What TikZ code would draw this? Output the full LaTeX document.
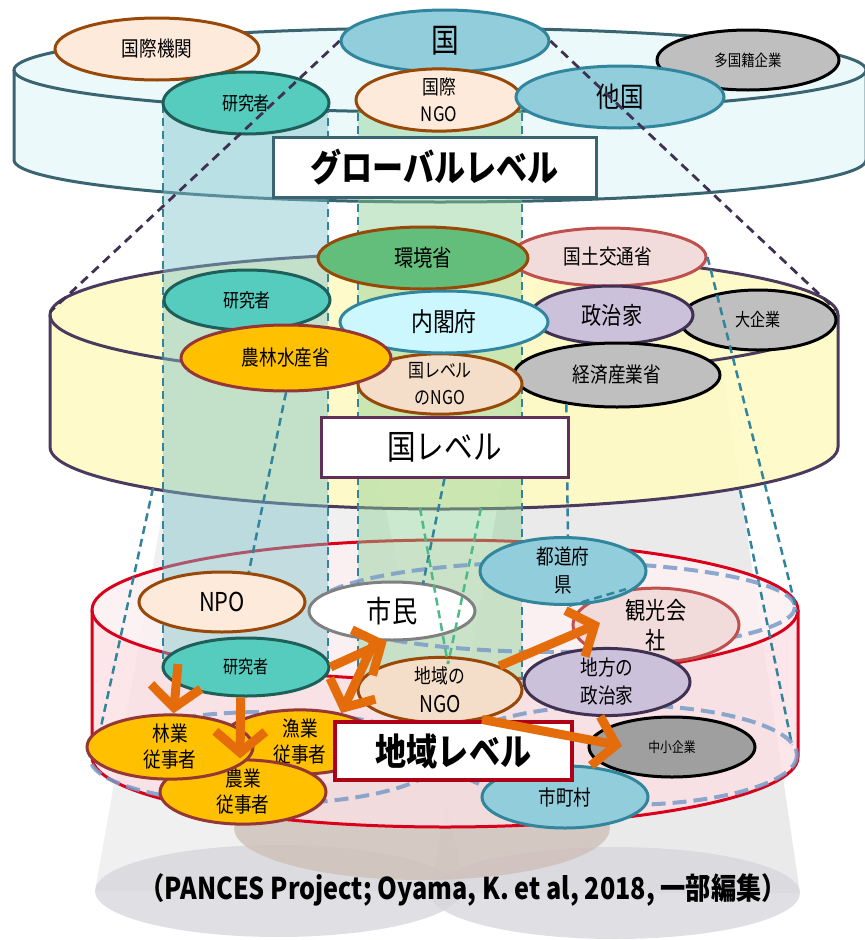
\documentclass[tikz,border=0pt]{standalone}
\usepackage{fontspec}
\setmainfont[FakeStretch=0.84]{Noto Sans CJK JP}
\usetikzlibrary{shapes.geometric,arrows.meta}
\definecolor{cBlue}{HTML}{92CDDC}
\definecolor{cBlueL}{HTML}{31859C}
\definecolor{cPeach}{HTML}{FDEADA}
\definecolor{cBrown}{HTML}{984807}
\definecolor{cTeal}{HTML}{55CCBE}
\definecolor{cTealL}{HTML}{1F5F5A}
\definecolor{cGray}{HTML}{BFBFBF}
\definecolor{cGreen}{HTML}{63BE7B}
\definecolor{cPink}{HTML}{F2DCDB}
\definecolor{cPinkL}{HTML}{C0504D}
\definecolor{cCyan}{HTML}{CCF7FF}
\definecolor{cLav}{HTML}{CCC1DA}
\definecolor{cLavL}{HTML}{403152}
\definecolor{cOrange}{HTML}{FFC000}
\definecolor{cOrangeL}{HTML}{953735}
\definecolor{cArrow}{HTML}{E46C0A}
\definecolor{globF}{HTML}{ECF9FB}
\definecolor{globL}{HTML}{3A6470}
\definecolor{natF}{HTML}{FFFAC4}
\definecolor{natL}{HTML}{4A3B5E}
\definecolor{locF}{HTML}{FBE0E3}
\definecolor{locL}{HTML}{D9001B}
\definecolor{tealD}{HTML}{31849B}
\definecolor{purpD}{HTML}{3F3151}
\definecolor{blueD}{HTML}{7A9CC8}
\definecolor{tealB}{HTML}{7DC3CC}
\definecolor{greenB}{HTML}{8CCF93}
\definecolor{grayBot}{HTML}{D5D5DB}
\definecolor{brownSh}{HTML}{CFC0B8}
\begin{document}
\begin{tikzpicture}[x=1pt,y=-1pt,
  nd/.style={ellipse, inner sep=0pt, line width=3pt, align=center, text=black},
  blueN/.style={nd, fill=cBlue, draw=cBlueL},
  peachN/.style={nd, fill=cPeach, draw=cBrown},
  tealN/.style={nd, fill=cTeal, draw=cTealL},
  grayN/.style={nd, fill=cGray, draw=black},
  greenN/.style={nd, fill=cGreen, draw=cBrown},
  pinkN/.style={nd, fill=cPink, draw=cPinkL},
  cyanN/.style={nd, fill=cCyan, draw=cBlueL},
  lavN/.style={nd, fill=cLav, draw=cLavL},
  orangeN/.style={nd, fill=cOrange, draw=cOrangeL},
  whiteN/.style={nd, fill=white, draw=gray},
  lvbox/.style={rectangle, fill=white, inner sep=0pt, line width=3pt, font=\bfseries\fontsize{37}{40}\selectfont},
  tdash/.style={draw=tealD, line width=2.5pt, dash pattern=on 8pt off 5pt},
  tdashL/.style={draw=tealD!70!green!80!white, line width=2.5pt, dash pattern=on 8pt off 5pt},
  pdash/.style={draw=purpD, line width=2.8pt, dash pattern=on 9pt off 6pt},
  bdash/.style={draw=blueD, line width=4pt, dash pattern=on 14pt off 7pt, opacity=0.85},
  orr/.style={draw=cArrow, line width=9pt, -{Straight Barb[length=21pt,width=50pt]}}
]
\useasboundingbox (0,0) rectangle (865,940);

% ---- light beams and shadows
\fill[gray!60, opacity=0.2] (185,385) -- (360,385) -- (465,891) -- (95,891) -- cycle;
\fill[gray!65, opacity=0.25] (540,262) -- (707,262) -- (800,893) -- (430,893) -- cycle;
\fill[grayBot, opacity=0.75] (278,891) ellipse[x radius=183, y radius=46];
\fill[grayBot, opacity=0.75] (615,893) ellipse[x radius=185, y radius=46];
\fill[brownSh, opacity=0.8] (422,828) ellipse[x radius=188, y radius=52];

% ---- global cylinder
\fill[globF] (14,70) -- (14,160) arc[start angle=180,end angle=0,x radius=426,y radius=42] -- (866,70) arc[start angle=0,end angle=-180,x radius=426,y radius=42] -- cycle;
\draw[globL, line width=3pt] (14,70) -- (14,160) arc[start angle=180,end angle=0,x radius=426,y radius=42] -- (866,70);
\draw[globL, line width=3pt] (440,70) ellipse[x radius=426, y radius=42];

% ---- national cylinder
\fill[natF, opacity=0.9] (50,315) -- (50,447) arc[start angle=180,end angle=0,x radius=394,y radius=62] -- (838,315) arc[start angle=0,end angle=-180,x radius=394,y radius=62] -- cycle;
\draw[natL, line width=3pt] (50,315) -- (50,447) arc[start angle=180,end angle=0,x radius=394,y radius=62] -- (838,315);
\draw[natL, line width=3pt] (444,315) ellipse[x radius=394, y radius=62];

% ---- local cylinder
\fill[locF, opacity=0.8] (92,610) -- (92,757) arc[start angle=180,end angle=0,x radius=353,y radius=70] -- (798,610) arc[start angle=0,end angle=-180,x radius=353,y radius=70] -- cycle;
\fill[white, opacity=0.5] (445,610) ellipse[x radius=353, y radius=70];
\draw[locL, line width=3pt] (92,610) -- (92,757) arc[start angle=180,end angle=0,x radius=353,y radius=70] -- (798,610);
\draw[locL, line width=3pt] (445,610) ellipse[x radius=353, y radius=70];

% ---- vertical bands
\fill[tealB, opacity=0.45] (163,105) rectangle (328,668);
\fill[greenB, opacity=0.45] (358,100) rectangle (522,690);

% ---- coordinates for free ends
\coordinate (bl1) at (163,105); \coordinate (bl2) at (163,668);
\coordinate (br1) at (328,105); \coordinate (br2) at (328,668);
\coordinate (gl1) at (358,100); \coordinate (gl2) at (358,690);
\coordinate (gr1) at (522,100); \coordinate (gr2) at (522,690);
\coordinate (outL1) at (153,488); \coordinate (outL2) at (97,745);
\coordinate (npoT) at (248,576);
\coordinate (xA) at (420,508); \coordinate (xB) at (481,508);
\coordinate (ngoT) at (448,664);
\coordinate (shiT) at (423,584);
\coordinate (todoT) at (568,542);
\coordinate (lineA2) at (797,612);
\coordinate (lineB1) at (740,490); \coordinate (lineB2) at (792,745);
\coordinate (natL1) at (50,312); \coordinate (natR1) at (836,310);
\coordinate (a1s) at (178,664);
\coordinate (a5e) at (600,623);
\coordinate (a6e) at (622,746);

% ---- dashed teal lines
\draw[tdash] (bl1) -- (bl2);
\draw[tdash] (br1) -- (br2);
\draw[tdash] (gl1) -- (gl2);
\draw[tdash] (gr1) -- (gr2);
\draw[tdash] (outL1) -- (outL2);
\draw[tdash] (lineB1) -- (lineB2);

% ---- blue dashed ellipses (local level)
\draw[bdash] (555,607) ellipse[x radius=240, y radius=45];
\draw[bdash] (265,758) ellipse[x radius=175, y radius=46];
\draw[bdash] (622,755) ellipse[x radius=175, y radius=50];

% ---- global nodes
\node[peachN, minimum width=204pt, minimum height=62pt, font=\fontsize{21}{25}\selectfont] (kikan) at (157,49) {国際機関};
\node[blueN, minimum width=208pt, minimum height=62pt, font=\fontsize{33}{36}\selectfont] (kuni) at (445,41) {国};
\node[grayN, minimum width=182pt, minimum height=60pt, font=\fontsize{16}{19}\selectfont] (takoku) at (748,60) {多国籍企業};
\node[peachN, minimum width=166pt, minimum height=60pt, font=\fontsize{20}{27}\selectfont] (ngoG) at (439,100) {国際\\NGO};
\node[tealN, minimum width=166pt, minimum height=62pt, font=\fontsize{19}{22}\selectfont] (kenG) at (246,103) {研究者};
\node[blueN, minimum width=208pt, minimum height=62pt, font=\fontsize{28}{32}\selectfont] (takoku2) at (620,97) {他国};

% ---- purple dashed lines
\draw[pdash] (kuni.west) -- (natL1);
\draw[pdash] (kuni.east) -- (natR1);

% ---- national nodes
\node[pinkN, minimum width=196pt, minimum height=58pt, font=\fontsize{21}{25}\selectfont] (kokudo) at (608,257) {国土交通省};
\node[greenN, minimum width=210pt, minimum height=62pt, font=\fontsize{23}{27}\selectfont] (kankyo) at (423,258) {環境省};
\node[tealN, minimum width=166pt, minimum height=60pt, font=\fontsize{19}{22}\selectfont] (kenN) at (247,300) {研究者};
\node[grayN, minimum width=156pt, minimum height=60pt, font=\fontsize{18}{21}\selectfont] (daikigyo) at (758,320) {大企業};
\node[lavN, minimum width=162pt, minimum height=58pt, font=\fontsize{24}{28}\selectfont] (seijika) at (612,315) {政治家};
\node[grayN, minimum width=206pt, minimum height=64pt, font=\fontsize{21}{25}\selectfont] (keizai) at (617,375) {経済産業省};
\node[peachN, fill=cPeach!85!brown!90!white, minimum width=164pt, minimum height=58pt, font=\fontsize{19}{27}\selectfont] (ngoN) at (440,384) {国レベル\\のNGO};
\node[cyanN, minimum width=208pt, minimum height=62pt, font=\fontsize{26}{30}\selectfont] (naikaku) at (444,322) {内閣府};
\node[orangeN, minimum width=210pt, minimum height=66pt, font=\fontsize{21}{25}\selectfont] (nourin) at (286,358) {農林水産省};

% ---- connectors national -> local
\draw[tdash] (nourin.south) -- (npoT);
\draw[tdash] (keizai.-150) -- (todoT);
\draw[tdash] (kokudo.east) -- (lineA2);

% ---- local nodes
\node[peachN, minimum width=166pt, minimum height=60pt, font=\fontsize{26}{30}\selectfont] (npo) at (222,602) {NPO};
\node[pinkN, minimum width=166pt, minimum height=64pt, font=\fontsize{24}{30}\selectfont] (kanko) at (656,625) {観光会\\社};
\node[blueN, minimum width=166pt, minimum height=62pt, font=\fontsize{21}{28}\selectfont] (todo) at (563,571) {都道府\\県};
\node[whiteN, minimum width=166pt, minimum height=58pt, font=\fontsize{30}{34}\selectfont] (shimin) at (392,611) {市民};
\node[tealN, minimum width=166pt, minimum height=58pt, font=\fontsize{18}{21}\selectfont] (kenL) at (246,667) {研究者};
\node[peachN, fill=cPeach!85!brown!90!white, minimum width=164pt, minimum height=60pt, font=\fontsize{23}{29}\selectfont] (ngoL) at (440,690) {{\fontsize{20}{23}\selectfont 地域の}\\NGO};
\node[lavN, minimum width=166pt, minimum height=62pt, font=\fontsize{21}{28}\selectfont] (chiho) at (607,682) {地方の\\政治家};
\node[orangeN, minimum width=160pt, minimum height=64pt, font=\fontsize{21}{26}\selectfont] (gyogyo) at (300,742) {漁業\\従事者};
\node[orangeN, minimum width=166pt, minimum height=62pt, font=\fontsize{21}{26}\selectfont] (nogyo) at (243,792) {農業\\従事者};
\node[orangeN, minimum width=166pt, minimum height=62pt, font=\fontsize{21}{26}\selectfont] (ringyo) at (170,747) {林業\\従事者};
\node[grayN, fill=gray!75, minimum width=166pt, minimum height=60pt, font=\fontsize{14}{17}\selectfont] (chusho) at (672,747) {中小企業};
\node[blueN, minimum width=166pt, minimum height=62pt, font=\fontsize{21}{25}\selectfont] (shicho) at (565,797) {市町村};

% ---- dashed connectors between local nodes
\draw[tdash] (todo.-80) -- (kanko.130);

% ---- level boxes
\node[lvbox, draw=globL, minimum width=323pt, minimum height=60pt] (glob) at (434.5,167) {グローバルレベル};
\node[lvbox, draw=natL!80!purple, font=\fontsize{34}{38}\selectfont, minimum width=247pt, minimum height=60pt] (nat) at (444.5,447) {国レベル};
\node[lvbox, draw=locL!80!black, line width=4pt, minimum width=237pt, minimum height=58pt] (loc) at (453.5,751) {地域レベル};

% ---- crossing dashed lines under 国レベル
\draw[tdash] (nat.south) -- (shiT);
\draw[tdashL] (xA) -- (ngoT);
\draw[tdashL] (xB) -- (ngoT);

% ---- orange arrows
\draw[orr] (a1s) -- (ringyo.84);
\draw[orr] (kenL.-100) -- (nogyo.95);
\draw[orr] (kenL.east) -- (shimin.-100);
\draw[orr] (shimin.-120) -- (gyogyo.35);
\draw[orr] (ngoL.22) -- (a5e);
\draw[orr] (ngoL.-35) -- (a6e);

% ---- caption
\node[font=\bfseries\fontsize{30}{34}\selectfont] (cap) at (463,890) {（PANCES Project; Oyama, K. et al, 2018, 一部編集）};
\end{tikzpicture}
\end{document}
